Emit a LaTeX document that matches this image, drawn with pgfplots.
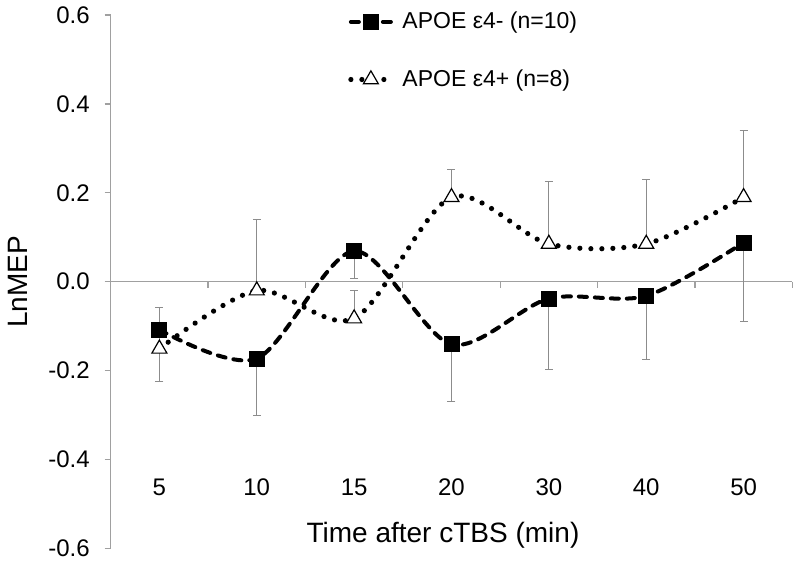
\documentclass[border=0pt]{standalone}
\usepackage{pgfplots}
\usepackage{pgfplotstable}
\pgfplotsset{compat=1.18}
\usepackage{fontspec}
\setmainfont{Liberation Sans}
\definecolor{axgray}{HTML}{A0A0A0}
\definecolor{errgray}{HTML}{8C8C8C}

\pgfplotstableread{
x y e
0 -0.108 0.117
1 -0.173 0.128
2 0.069 0.062
3 -0.141 0.128
4 -0.038 0.160
5 -0.032 0.143
6 0.088 0.177
}\neg

\pgfplotstableread{
x y e
0 -0.151 0.093
1 -0.020 0.159
2 -0.083 0.063
3 0.190 0.063
4 0.085 0.140
5 0.085 0.145
6 0.190 0.151
}\pos

\begin{document}
\begin{tikzpicture}
\begin{axis}[
  scale only axis, width=340.8pt, height=266.6pt,
  xmin=-0.5, xmax=6.5, ymin=-0.6, ymax=0.6,
  axis x line=middle, axis y line=left,
  axis line style={axgray, line width=0.6pt, -},
  every inner x axis line/.append style={-},
  every outer y axis line/.append style={-},
  tick style={axgray, line width=0.6pt},
  tick align=outside,
  major tick length=3pt,
  xtick={0.5,1.5,2.5,3.5,4.5,5.5,6.5}, xticklabels={},
  extra x ticks={0,1,2,3,4,5,6},
  extra x tick labels={5,10,15,20,30,40,50},
  extra x tick style={major tick length=0pt, tick label style={anchor=center, yshift=-102.7pt}},
  ytick={-0.6,-0.4,-0.2,0,0.2,0.4,0.6},
  yticklabels={-0.6,-0.4,-0.2,0.0,0.2,0.4,0.6},
  tick label style={font=\fontsize{12}{14}\selectfont},
  yticklabel style={xshift=-4pt},
  xlabel={Time after cTBS (min)},
  ylabel={LnMEP},
  label style={font=\fontsize{14}{16}\selectfont},
  xlabel style={at={(axis description cs:0.4875,0.0244)}, anchor=center},
  ylabel style={at={(axis description cs:-0.1359,0.5)}, anchor=center},
  legend style={at={(axis description cs:0.348,1.014)}, anchor=north west, draw=none, fill=none,
    font=\fontsize{11.5}{13}\selectfont, row sep=15pt, column sep=0pt, inner sep=0pt},
  legend cell align=left,
  legend image code/.code={\draw[mark repeat=2,mark phase=2,#1] plot coordinates {(0pt,0pt)(10pt,0pt)(20pt,0pt)};},
  clip=false,
]
\addplot[black, line width=2pt, dash pattern=on 4pt off 4pt, line cap=round, smooth, tension=0.5,
  mark=square*, mark size=3.75pt, mark options={solid, fill=black, line width=0.4pt},
  error bars/.cd, y dir=minus, y explicit,
  error bar style={errgray, line width=0.5pt, solid, line cap=butt},
  error mark options={errgray, line width=0.5pt, solid, mark size=2pt, rotate=90}]
  table[x=x, y=y, y error=e] {\neg};
\addlegendentry{\hspace*{2.5pt}APOE ε4- (n=10)}
\addplot[black, line width=2.6pt, dash pattern=on 0pt off 5.5pt, line cap=round, smooth, tension=0.5,
  mark=triangle*, mark size=4.33pt, mark options={solid, fill=white, draw=black, line width=0.6pt},
  error bars/.cd, y dir=plus, y explicit,
  error bar style={errgray, line width=0.5pt, solid, line cap=butt},
  error mark options={errgray, line width=0.5pt, solid, mark size=2pt, rotate=90}]
  table[x=x, y=y, y error=e] {\pos};
\addlegendentry{\hspace*{2.5pt}APOE ε4+ (n=8)}
\end{axis}
\pgfresetboundingbox
\path (-55.35pt,-8.35pt) rectangle (344.65pt,274.15pt);
\end{tikzpicture}
\end{document}
